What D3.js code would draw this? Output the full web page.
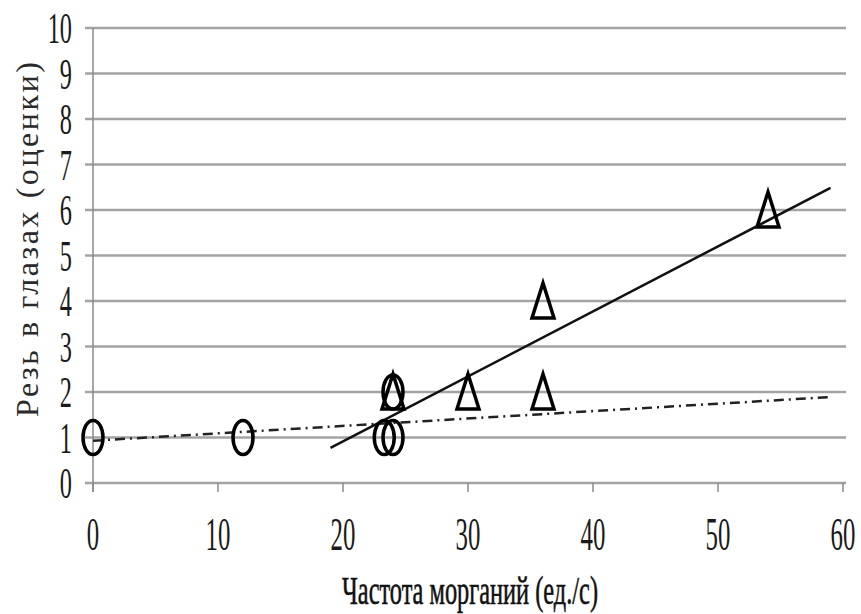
<!DOCTYPE html>
<html><head><meta charset="utf-8">
<script src="https://cdn.jsdelivr.net/npm/d3@7"></script>
<style>html,body{margin:0;padding:0;background:#fff;}</style>
</head><body>
<svg id="c" width="861" height="614"></svg>
<script>
// Data
const circleX = [0, 12, 23.3, 24, 24];
const circleY = [1, 1, 1, 1, 2];
const triangleX = [24, 30, 36, 36, 54];
const triangleY = [2, 2, 4, 2, 6];
// trendline x-ranges (linear least-squares fits of each series)
const circleTrendRange = [0, 59];
const triangleTrendRange = [19, 59];
const xTicks = [0, 10, 20, 30, 40, 50, 60];
const yTicks = [0, 1, 2, 3, 4, 5, 6, 7, 8, 9, 10];
const xTitle = "Частота морганий (ед./с)";
const yTitle = "Резь в глазах (оценки)";

const svg = d3.select("#c");
const x = d3.scaleLinear().domain([0, 60]).range([93, 843]);
const y = d3.scaleLinear().domain([0, 10]).range([483, 28]);
const serif = "'Liberation Serif'";

// gridlines
svg.append("g").selectAll("line").data(yTicks).join("line")
  .attr("x1", 85).attr("x2", 846)
  .attr("y1", d => y(d)).attr("y2", d => y(d))
  .attr("stroke", "#a3a3a3").attr("stroke-width", 2.5);

// vertical axis line
svg.append("line").attr("x1", x(0)).attr("x2", x(0))
  .attr("y1", y(10)).attr("y2", y(0) + 9)
  .attr("stroke", "#8a8a8a").attr("stroke-width", 1.5);

// bottom ticks
svg.append("g").selectAll("line").data(xTicks).join("line")
  .attr("x1", d => x(d)).attr("x2", d => x(d))
  .attr("y1", y(0)).attr("y2", y(0) + 9)
  .attr("stroke", "#8a8a8a").attr("stroke-width", 1.5);

// tick labels (condensed)
svg.append("g").selectAll("g").data(yTicks).join("g")
  .attr("transform", d => `translate(72,${y(d) + 15}) scale(0.54,1)`)
  .append("text").attr("text-anchor", "end")
  .style("font-family", serif).style("font-size", "45px").attr("fill", "#1a1a1a")
  .text(d => d);

svg.append("g").selectAll("g").data(xTicks).join("g")
  .attr("transform", d => `translate(${x(d)},550) scale(0.54,1)`)
  .append("text").attr("text-anchor", "middle")
  .style("font-family", serif).style("font-size", "46px").attr("fill", "#1a1a1a")
  .text(d => d);

// axis titles
svg.append("text").attr("x", 342).attr("y", 604)
  .style("font-family", serif).style("font-size", "40px").attr("fill", "#111")
  .attr("stroke", "#111").attr("stroke-width", 0.6)
  .attr("textLength", 256).attr("lengthAdjust", "spacingAndGlyphs")
  .text(xTitle);

svg.append("g").attr("transform", "translate(38,417) rotate(-90)")
  .append("text").attr("x", 0).attr("y", 0)
  .style("font-family", serif).style("font-size", "32px").attr("fill", "#2a2a2a")
  .attr("textLength", 355).attr("lengthAdjust", "spacing")
  .text(yTitle);

// least squares fit
function fit(xs, ys) {
  const mx = d3.mean(xs), my = d3.mean(ys);
  let sxy = 0, sxx = 0;
  xs.forEach((v, i) => { sxy += (v - mx) * (ys[i] - my); sxx += (v - mx) ** 2; });
  const b = sxy / sxx;
  return { a: my - b * mx, b };
}
const fc = fit(circleX, circleY), ft = fit(triangleX, triangleY);
const line = d3.line().x(d => x(d[0])).y(d => y(d[1]));

svg.append("path")
  .attr("d", line(circleTrendRange.map(v => [v, fc.a + fc.b * v])))
  .attr("stroke", "#222").attr("stroke-width", 2.5).attr("fill", "none")
  .attr("stroke-dasharray", "10,5,2,5");

svg.append("path")
  .attr("d", line(triangleTrendRange.map(v => [v, ft.a + ft.b * v])))
  .attr("stroke", "#111").attr("stroke-width", 2.5).attr("fill", "none");

// circle markers (ellipses)
svg.append("g").selectAll("ellipse").data(circleX.map((v, i) => [v, circleY[i]])).join("ellipse")
  .attr("cx", d => x(d[0])).attr("cy", d => y(d[1]))
  .attr("rx", 10).attr("ry", 17)
  .attr("fill", "none").attr("stroke", "#000").attr("stroke-width", 3.5);

// triangle markers
const tri = (cx, cy) => `M${cx},${cy - 18} L${cx + 11},${cy + 17} L${cx - 11},${cy + 17} Z`;
svg.append("g").selectAll("path").data(triangleX.map((v, i) => [v, triangleY[i]])).join("path")
  .attr("d", d => tri(x(d[0]), y(d[1])))
  .attr("fill", "none").attr("stroke", "#000").attr("stroke-width", 3.5)
  .attr("stroke-linejoin", "miter");
</script>
</body></html>
